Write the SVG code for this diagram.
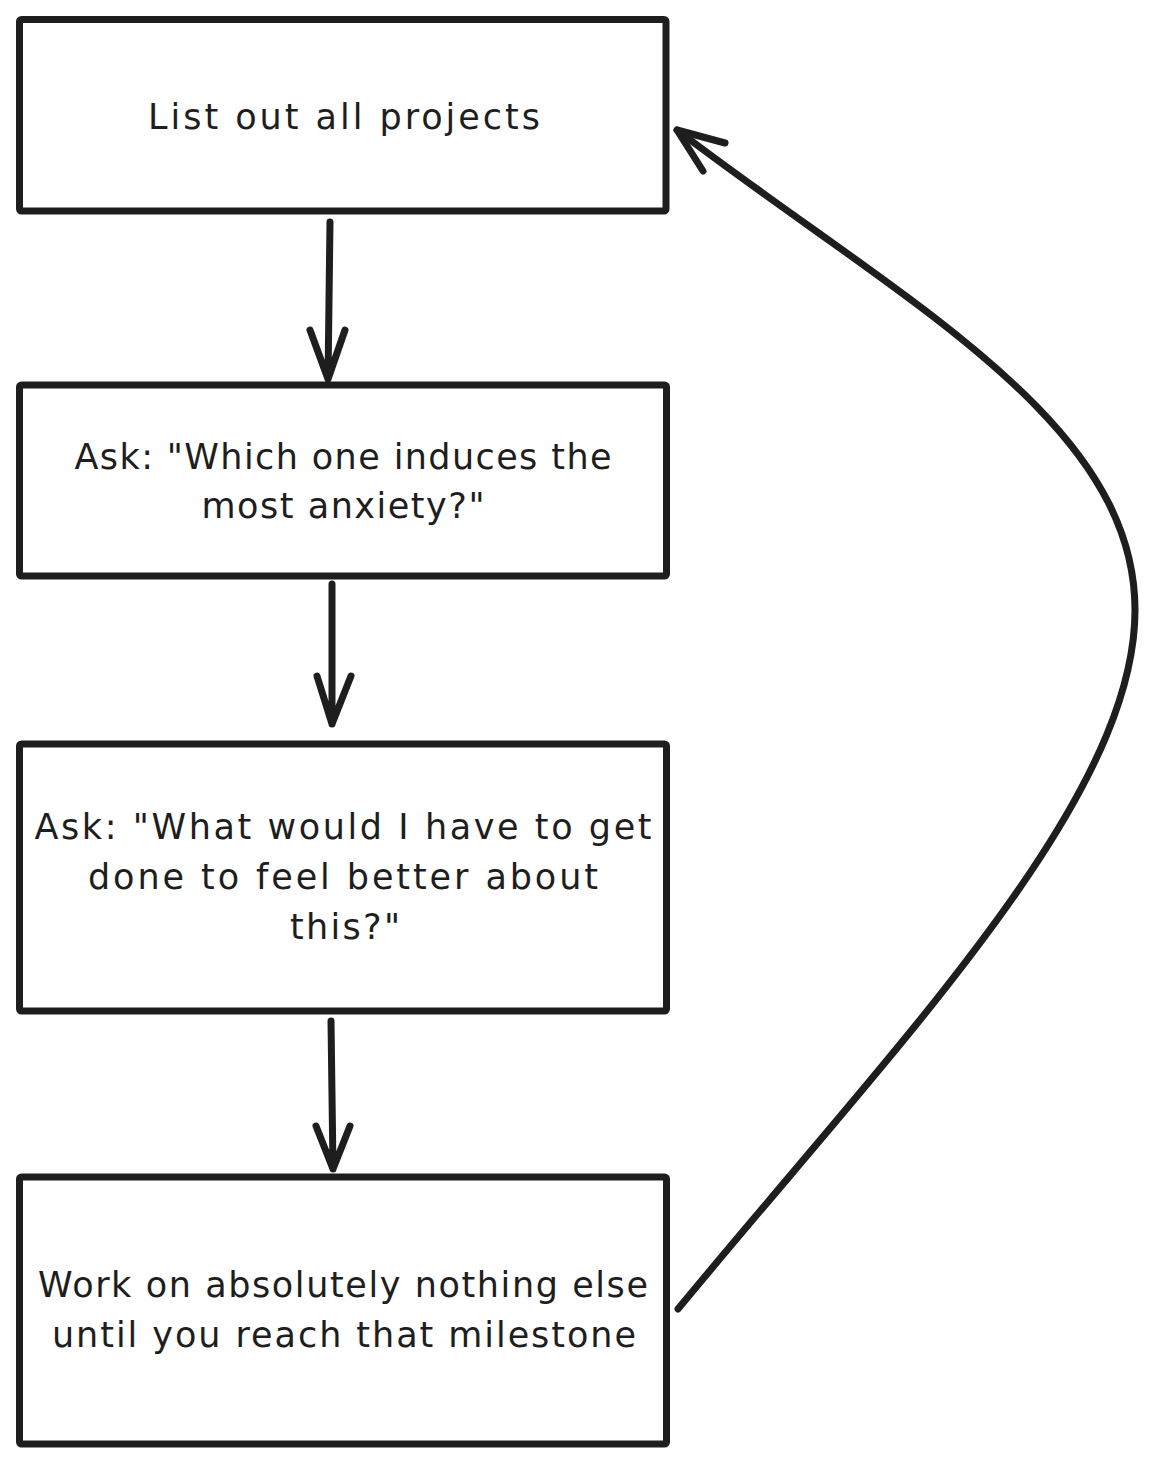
<svg xmlns="http://www.w3.org/2000/svg" width="1153" height="1464" viewBox="0 0 1153 1464">
<style>
.box{fill:#fff;stroke:#1e1e1e;stroke-width:7;stroke-linejoin:round}
.ln{fill:none;stroke:#1e1e1e;stroke-width:7;stroke-linecap:round;stroke-linejoin:round}
.t{font-family:"DejaVu Sans",sans-serif;font-size:35px;fill:#1e1e1e;text-anchor:middle}
</style>
<rect width="1153" height="1464" fill="#fff"/>
<g id="node1">
<rect class="box" x="19.5" y="19.5" width="646.5" height="191.5" rx="2"/>
<text class="t" x="344" y="129" textLength="392" lengthAdjust="spacing">List out all projects</text>
</g>
<g id="node2">
<rect class="box" x="19.5" y="385" width="647" height="191" rx="2"/>
<text class="t" x="343" y="469" textLength="537" lengthAdjust="spacing">Ask: "Which one induces the</text>
<text class="t" x="343" y="518" textLength="283" lengthAdjust="spacing">most anxiety?"</text>
</g>
<g id="node3">
<rect class="box" x="19.5" y="744" width="647" height="267" rx="2"/>
<text class="t" x="343" y="839" textLength="617" lengthAdjust="spacing">Ask: "What would I have to get</text>
<text class="t" x="343" y="889" textLength="510" lengthAdjust="spacing">done to feel better about</text>
<text class="t" x="345" y="939" textLength="110" lengthAdjust="spacing">this?"</text>
</g>
<g id="node4">
<rect class="box" x="19.5" y="1177" width="647" height="267" rx="2"/>
<text class="t" x="343" y="1297" textLength="610" lengthAdjust="spacing">Work on absolutely nothing else</text>
<text class="t" x="344" y="1347" textLength="584" lengthAdjust="spacing">until you reach that milestone</text>
</g>
<g id="connectors">
<path class="ln" d="M330,222 L328,379 M310,330 L328,379 L345,330"/>
<path class="ln" d="M332,584 L332,724 M317,676 L332,724 L351,676"/>
<path class="ln" d="M331,1021 L333,1169 M316,1126 L333,1169 L350,1126"/>
<path class="ln" d="M678,1309 C900,1040 1135,800 1135,610 C1135,420 900,300 677,130"/>
<path class="ln" d="M725,143 L677,130 L703,171"/>
</g>
</svg>
